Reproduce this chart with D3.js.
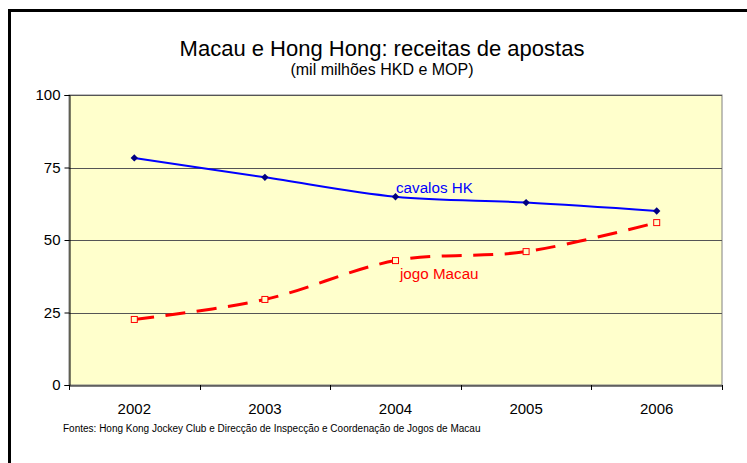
<!DOCTYPE html>
<html><head><meta charset="utf-8">
<script src="https://cdn.jsdelivr.net/npm/d3@7"></script>
<style>body{margin:0;background:#fff}svg{display:block;font-family:"Liberation Sans",Arial,sans-serif}</style>
</head><body><svg id="c" width="747" height="463"></svg>
<script>
const years = ["2002","2003","2004","2005","2006"];
const cavalosHK = [78.3, 71.6, 64.9, 62.9, 60.0];
const jogoMacau = [22.6, 29.5, 42.9, 46.0, 56.0];
const yTicks = [0, 25, 50, 75, 100];
const title = "Macau e Hong Hong: receitas de apostas";
const subtitle = "(mil milhões HKD e MOP)";
const source = "Fontes: Hong Kong Jockey Club e Direcção de Inspecção e Coordenação de Jogos de Macau";

const svg = d3.select("#c");
const L = 69, R = 722, T = 95, B = 385;
svg.append("rect").attr("x",9.5).attr("y",10.5).attr("width",800).attr("height",500)
  .attr("fill","#fff").attr("stroke","#000").attr("stroke-width",3);

const x = d3.scaleBand().domain(years).range([L,R]);
const y = d3.scaleLinear().domain([0,100]).range([B,T]);

svg.append("rect").attr("x",L).attr("y",T).attr("width",R-L).attr("height",B-T)
  .attr("fill","#FFFFCC").attr("stroke","#808080").attr("stroke-width",1);

svg.append("g").selectAll("line").data(yTicks.filter(d=>d>0)).join("line")
  .attr("x1",L).attr("x2",R).attr("y1",d=>Math.round(y(d))+0.5).attr("y2",d=>Math.round(y(d))+0.5)
  .attr("stroke","#555").attr("stroke-width",1);

const ya = svg.append("g").attr("transform",`translate(${L+0.5},0)`)
  .call(d3.axisLeft(y).tickValues(yTicks).tickSize(5).tickPadding(4));
ya.select(".domain").attr("stroke","#000");
ya.selectAll("text").attr("font-size",15).attr("fill","#000").attr("font-family","Liberation Sans, Arial, sans-serif");

const xa = svg.append("g").attr("transform",`translate(0,${B+0.5})`)
  .call(d3.axisBottom(x).tickSize(0).tickPadding(18));
xa.select(".domain").attr("stroke","#000");
xa.selectAll("text").attr("font-size",15).attr("fill","#000").attr("font-family","Liberation Sans, Arial, sans-serif");
const bounds = years.map(d=>x(d)).concat([R]);
svg.append("g").selectAll("line").data(bounds).join("line")
  .attr("x1",d=>Math.round(d)+0.5).attr("x2",d=>Math.round(d)+0.5).attr("y1",B).attr("y2",B+5)
  .attr("stroke","#000");

const cx = d => x(d) + x.bandwidth()/2;
const line = d3.line().x((d,i)=>cx(years[i])).y(d=>y(d)).curve(d3.curveCardinal.tension(0));

svg.append("path").datum(cavalosHK).attr("d",line).attr("fill","none")
  .attr("stroke","#0000FF").attr("stroke-width",2);
svg.append("path").datum(jogoMacau).attr("d",line).attr("fill","none")
  .attr("stroke","#FF0000").attr("stroke-width",3).attr("stroke-dasharray","20,11.5");

svg.append("g").selectAll("rect").data(cavalosHK).join("rect")
  .attr("x",-2.6).attr("y",-2.6).attr("width",5.2).attr("height",5.2)
  .attr("transform",(d,i)=>`translate(${cx(years[i])},${y(d)}) rotate(45)`)
  .attr("fill","#000080");
svg.append("g").selectAll("rect").data(jogoMacau).join("rect")
  .attr("x",(d,i)=>cx(years[i])-3).attr("y",d=>y(d)-3).attr("width",6).attr("height",6)
  .attr("fill","#FFFFCC").attr("stroke","#FF0000").attr("stroke-width",1);

svg.append("text").attr("x",396).attr("y",193).attr("font-size",15.2).attr("fill","#0000FF").text("cavalos HK");
svg.append("text").attr("x",400).attr("y",279).attr("font-size",15.2).attr("fill","#FF0000").text("jogo Macau");

svg.append("text").attr("x",382).attr("y",56).attr("text-anchor","middle").attr("font-size",22).text(title);
svg.append("text").attr("x",382).attr("y",75).attr("text-anchor","middle").attr("font-size",16).text(subtitle);
svg.append("text").attr("x",63).attr("y",432).attr("font-size",10).text(source);
</script></body></html>
